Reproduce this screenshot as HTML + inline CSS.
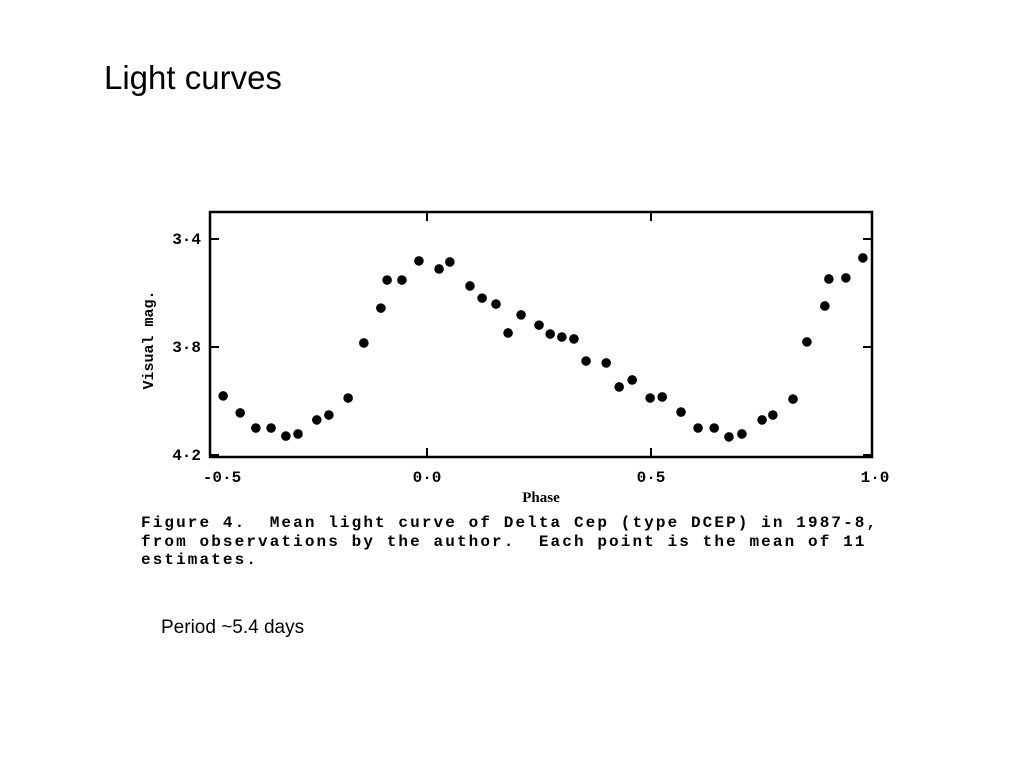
<!DOCTYPE html>
<html><head><meta charset="utf-8"><style>
body{margin:0;background:#fff;width:1024px;height:768px;overflow:hidden;position:relative;font-family:"Liberation Sans",sans-serif}
.t{position:absolute;white-space:pre}
</style></head><body>
<div class="t" style="left:104px;top:59px;font-size:33px;color:#000">Light curves</div>
<svg width="1024" height="768" style="position:absolute;left:0;top:0">
<g id="frame" stroke="#000" stroke-width="2.5" fill="none">
<rect x="210" y="212" width="662" height="245"/>
</g>
<g id="ticks" stroke="#000" stroke-width="2"></g>
<g id="labels" font-family="Liberation Mono, monospace" font-size="16" font-weight="bold" fill="#000"></g>
<g id="pts" fill="#000"></g>
<text transform="translate(153,340) rotate(-90)" text-anchor="middle" font-family="Liberation Mono, monospace" font-size="15" font-weight="bold">Visual mag.</text>
<text x="541" y="502" text-anchor="middle" font-family="Liberation Serif, serif" font-size="15" font-weight="bold">Phase</text>
</svg>
<div style="position:absolute;left:141px;top:514px;font-family:'Liberation Mono',monospace;font-weight:bold;font-size:16px;letter-spacing:2.1px;line-height:18.5px;white-space:pre;color:#000">Figure 4.  Mean light curve of Delta Cep (type DCEP) in 1987-8,
from observations by the author.  Each point is the mean of 11
estimates.</div>
<div class="t" style="left:161px;top:617px;font-size:19px;color:#000">Period ~5.4 days</div>
<script>
const phases=[-0.455,-0.417,-0.382,-0.348,-0.315,-0.288,-0.246,-0.219,-0.176,-0.141,-0.103,-0.089,-0.056,-0.018,0.027,0.051,0.096,0.123,0.154,0.181,0.210,0.250,0.275,0.301,0.328,0.355,0.400,0.429,0.458,0.498,0.525,0.567,0.605,0.641,0.674,0.703,0.748,0.772,0.817,0.848,0.888,0.897,0.935,0.973];
const mags=[3.981,4.044,4.100,4.100,4.130,4.122,4.070,4.052,3.989,3.785,3.656,3.552,3.552,3.481,3.511,3.485,3.574,3.619,3.641,3.748,3.681,3.719,3.752,3.763,3.770,3.852,3.859,3.948,3.922,3.989,3.985,4.041,4.100,4.100,4.133,4.122,4.070,4.052,3.993,3.781,3.648,3.548,3.544,3.470];
const yTicks=[3.4,3.8,4.2];
const yTickLabels=["3·4","3·8","4·2"];
const xTicks=[-0.5,0.0,0.5,1.0];
const xTickLabels=["-0·5","0·0","0·5","1·0"];
const X=p=>427+448*p;
const Y=m=>239+(m-3.4)*270;
const NS="http://www.w3.org/2000/svg";
function mk(tag,attrs,parent){const e=document.createElementNS(NS,tag);for(const k in attrs)e.setAttribute(k,attrs[k]);parent.appendChild(e);return e;}
const tg=document.getElementById('ticks'),lg=document.getElementById('labels'),pg=document.getElementById('pts');
yTicks.forEach((v,i)=>{
 const a=mk('line',{x1:210,x2:219,y1:Y(v),y2:Y(v)},tg);
 
 
 const b=mk('line',{x1:863,x2:872,y1:Y(v),y2:Y(v)},tg);
 
 
 const t=mk('text',{x:201,y:Y(v)+5,'text-anchor':'end'},lg);
 t.textContent=yTickLabels[i];
 
 
});
xTicks.forEach((v,i)=>{
 if(v>-0.4&&v<0.9){
  const a=mk('line',{x1:X(v),x2:X(v),y1:212,y2:221},tg);
  
  
  const b=mk('line',{x1:X(v),x2:X(v),y1:448,y2:457},tg);
  
  
 }
 const lx=Math.min(Math.max(X(v),222),877);
 const t=mk('text',{x:lx,y:482,'text-anchor':'middle'},lg);
 t.textContent=xTickLabels[i];
 
 
});
phases.forEach((p,i)=>{
 const c=mk('circle',{cx:X(p),cy:Y(mags[i]),r:4.8},pg);
 
 
});
</script>
</body></html>
